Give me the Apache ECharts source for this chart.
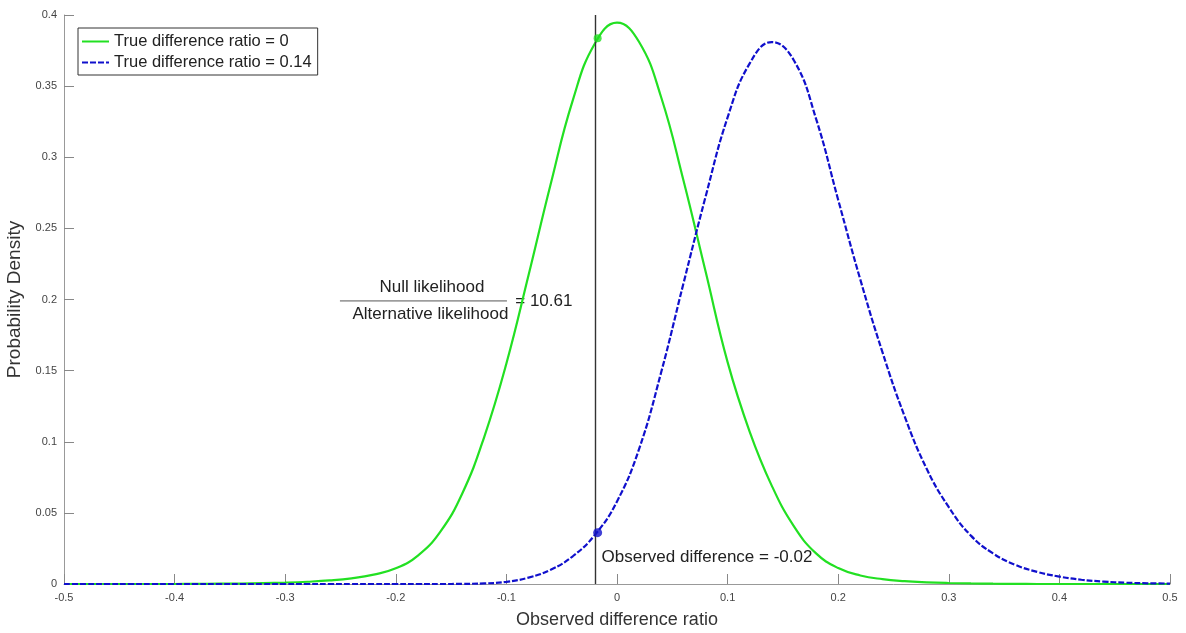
<!DOCTYPE html>
<html>
<head>
<meta charset="utf-8">
<title>Likelihood ratio</title>
<script src="https://cdn.jsdelivr.net/npm/echarts@6/dist/echarts.min.js"></script>
<style>
  html, body { margin: 0; padding: 0; background: #fff; }
  #chart { width: 1186px; height: 633px; }
</style>
</head>
<body>
<div id="chart"></div>
<script>
// x grid of the two density curves (observed difference ratio)
const xValues = [
  -0.50, -0.48, -0.46, -0.44, -0.42, -0.40, -0.38, -0.36, -0.34, -0.32,
  -0.30, -0.28, -0.26, -0.24, -0.22, -0.20, -0.18, -0.16, -0.14, -0.12,
  -0.10, -0.08, -0.06, -0.04, -0.02, 0.00, 0.02, 0.04, 0.06, 0.08,
  0.10, 0.12, 0.14, 0.16, 0.18, 0.20, 0.22, 0.24, 0.26, 0.28,
  0.30, 0.32, 0.34, 0.36, 0.38, 0.40, 0.42, 0.44, 0.46, 0.48, 0.50
];
// true difference ratio = 0
const nullDensity = [
  0, 0, 0, 0, 0, 0, 0.0001, 0.0002, 0.0003, 0.0006,
  0.0010, 0.0016, 0.0025, 0.0040, 0.0066, 0.0110, 0.0200, 0.0365, 0.0635, 0.1035,
  0.1550, 0.2170, 0.2810, 0.3400, 0.3800, 0.3946, 0.3810, 0.3420, 0.2840, 0.2200,
  0.1560, 0.1070, 0.0690, 0.0405, 0.0215, 0.0112, 0.0060, 0.0034, 0.0020, 0.0012,
  0.0007, 0.0004, 0.0002, 0.0001, 0, 0, 0, 0, 0, 0, 0
];
// true difference ratio = 0.14
const altDensity = [
  0, 0, 0, 0, 0, 0, 0, 0, 0, 0,
  0, 0, 0, 0, 0, 0, 0, 0, 0.0001, 0.0004,
  0.0015, 0.0045, 0.0100, 0.0195, 0.0345, 0.0580, 0.0950, 0.1490, 0.2110, 0.2720,
  0.3280, 0.3660, 0.3810, 0.3680, 0.3270, 0.2700, 0.2140, 0.1630, 0.1180, 0.0810,
  0.0540, 0.0340, 0.0215, 0.0135, 0.0085, 0.0052, 0.0030, 0.0017, 0.0009, 0.0005, 0.0003
];
const seriesNames = ['True difference ratio = 0', 'True difference ratio = 0.14'];
const observedX = -0.0175;
const observedNull = 0.3836;
const observedAlt = 0.0361;
const ratioText = '10.61';
const observedText = 'Observed difference = -0.02';

const FONT = '"Liberation Sans", Arial, Helvetica, sans-serif';
const GREEN = '#22e022';
const BLUE = '#1010cc';

const chart = echarts.init(document.getElementById('chart'));

const pairs = (ys) => xValues.map((x, i) => [x, ys[i]]);

chart.setOption({
  animation: false,
  textStyle: { fontFamily: FONT },
  grid: { left: 64, right: 16, top: 15, bottom: 49, containLabel: false, outerBoundsMode: 'none' },
  legend: {
    orient: 'vertical',
    left: 78,
    top: 28,
    padding: [5, 6, 4, 3],
    itemWidth: 27,
    itemHeight: 18,
    itemGap: 4,
    borderColor: '#333',
    borderWidth: 1,
    backgroundColor: '#fff',
    itemStyle: { opacity: 0 },
    textStyle: { fontFamily: FONT, fontSize: 16.5, color: '#222' },
    data: seriesNames
  },
  xAxis: {
    type: 'value',
    min: -0.5,
    max: 0.5,
    interval: 0.1,
    name: 'Observed difference ratio',
    nameLocation: 'middle',
    nameGap: 27,
    nameTextStyle: { fontFamily: FONT, fontSize: 18, color: '#333' },
    axisLine: { onZero: false, lineStyle: { color: '#999', width: 1 } },
    axisTick: { inside: true, length: 10, lineStyle: { color: '#888' } },
    axisLabel: { margin: 8, fontSize: 11, color: '#444', fontFamily: FONT },
    splitLine: { show: false }
  },
  yAxis: {
    type: 'value',
    min: 0,
    max: 0.4,
    interval: 0.05,
    name: 'Probability Density',
    nameLocation: 'middle',
    nameGap: 37,
    nameTextStyle: { fontFamily: FONT, fontSize: 19, color: '#333' },
    axisLine: { show: true, onZero: false, lineStyle: { color: '#999', width: 1 } },
    axisTick: { show: true, inside: true, length: 10, lineStyle: { color: '#888' } },
    axisLabel: { margin: 7, fontSize: 11, color: '#444', fontFamily: FONT },
    splitLine: { show: false }
  },
  series: [
    {
      name: seriesNames[0],
      type: 'line',
      data: pairs(nullDensity),
      symbol: 'none',
      smooth: 0.45,
      lineStyle: { color: GREEN, width: 2.2 },
      itemStyle: { color: GREEN },
      z: 3,
      markLine: {
        silent: true,
        symbol: 'none',
        label: { show: false },
        lineStyle: { color: '#333', width: 1.4, type: 'solid' },
        data: [{ xAxis: observedX }]
      }
    },
    {
      name: seriesNames[1],
      type: 'line',
      data: pairs(altDensity),
      symbol: 'none',
      smooth: 0.45,
      lineStyle: { color: BLUE, width: 2.2, type: [6, 2] },
      itemStyle: { color: BLUE },
      z: 3
    },
    {
      type: 'scatter',
      data: [[observedX, observedNull]],
      symbolSize: 8,
      itemStyle: { color: GREEN },
      z: 5
    },
    {
      type: 'scatter',
      data: [[observedX, observedAlt]],
      symbolSize: 9,
      itemStyle: { color: BLUE },
      z: 5
    }
  ]
});

// annotation texts anchored in data coordinates
const px = (x, y) => chart.convertToPixel({ gridIndex: 0 }, [x, y]);
const fracL = px(-0.2505, 0.199);
const fracR = px(-0.0995, 0.199);
const fracMid = (fracL[0] + fracR[0]) / 2;
const eqPos = px(-0.092, 0.199);
const obsPos = px(observedX + 0.0035, 0.019);
const labelFont = '17px ' + FONT;

chart.setOption({
  graphic: [
    {
      type: 'line',
      shape: { x1: fracL[0], y1: fracL[1], x2: fracR[0], y2: fracR[1] },
      style: { stroke: '#555', lineWidth: 1 },
      silent: true
    },
    {
      type: 'text',
      x: fracMid + 8.5, y: fracL[1] - 14,
      style: { text: 'Null likelihood', font: labelFont, fill: '#222', align: 'center', verticalAlign: 'middle' }
    },
    {
      type: 'text',
      x: fracMid + 7, y: fracL[1] + 13,
      style: { text: 'Alternative likelihood', font: labelFont, fill: '#222', align: 'center', verticalAlign: 'middle' }
    },
    {
      type: 'text',
      x: eqPos[0], y: eqPos[1],
      style: { text: '= ' + ratioText, font: labelFont, fill: '#222', align: 'left', verticalAlign: 'middle' }
    },
    {
      type: 'text',
      x: obsPos[0], y: obsPos[1],
      style: { text: observedText, font: labelFont, fill: '#222', align: 'left', verticalAlign: 'middle' }
    }
  ]
});
</script>
</body>
</html>
